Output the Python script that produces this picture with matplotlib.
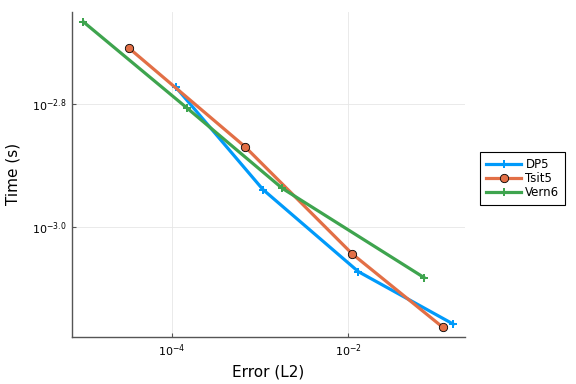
import matplotlib
matplotlib.use('Agg')
import matplotlib.pyplot as plt
from matplotlib.ticker import FixedLocator, NullLocator

# data (error, time)
dp5_err = [1.12e-4, 1.08e-3, 1.30e-2, 0.154]
dp5_time = [1.689e-3, 1.152e-3, 8.47e-4, 6.96e-4]
tsit5_err = [3.32e-5, 6.78e-4, 1.11e-2, 0.117]
tsit5_time = [1.954e-3, 1.352e-3, 9.05e-4, 6.88e-4]
vern6_err = [1.0e-5, 1.51e-4, 1.79e-3, 7.24e-2]
vern6_time = [2.159e-3, 1.561e-3, 1.157e-3, 8.28e-4]

xticks = [1e-4, 1e-2]
xtick_labels = [r'$10^{-4}$', r'$10^{-2}$']
yticks = [10 ** -2.8, 10 ** -3.0]
ytick_labels = [r'$10^{-2.8}$', r'$10^{-3.0}$']

fig = plt.figure(figsize=(5.76, 3.84), dpi=100)
ax = fig.add_axes([0.1245, 0.1232, 0.8073 - 0.1245, 0.9695 - 0.1232])

ax.plot(dp5_err, dp5_time, color='#009AFA', lw=2.3, marker='P', ms=6,
        mew=0, label='DP5')
ax.plot(tsit5_err, tsit5_time, color='#E26F46', lw=2.3, marker='o', ms=6,
        mec='black', mew=0.6, label='Tsit5')
ax.plot(vern6_err, vern6_time, color='#3EA44E', lw=2.3, marker='P', ms=6,
        mew=0, label='Vern6')

ax.set_xscale('log')
ax.set_yscale('log')
ax.set_xlim(10 ** -5.131, 10 ** -0.679)
ax.set_ylim(10 ** -3.1779, 10 ** -2.6494)

ax.xaxis.set_major_locator(FixedLocator(xticks))
ax.xaxis.set_minor_locator(NullLocator())
ax.set_xticklabels(xtick_labels)
ax.yaxis.set_major_locator(FixedLocator(yticks))
ax.yaxis.set_minor_locator(NullLocator())
ax.set_yticklabels(ytick_labels)

ax.grid(True, color='#e6e6e6', lw=0.6)
ax.set_axisbelow(True)
for s in ['top', 'right']:
    ax.spines[s].set_visible(False)
for s in ['left', 'bottom']:
    ax.spines[s].set_color('#555555')
    ax.spines[s].set_linewidth(1.0)
ax.tick_params(direction='in', length=3, width=0.8, color='#555555',
               labelsize=8, pad=4)

ax.set_xlabel('Error (L2)', fontsize=11)
ax.set_ylabel('Time (s)', fontsize=11, labelpad=8)

leg = ax.legend(loc='upper left', bbox_to_anchor=(1.038, 0.568), fontsize=8.5,
                fancybox=False, edgecolor='black', framealpha=1,
                borderaxespad=0, handlelength=3.0, borderpad=0.5,
                labelspacing=0.08, handletextpad=0.35)
leg.get_frame().set_linewidth(0.8)

fig.savefig('out.png', dpi=100)
